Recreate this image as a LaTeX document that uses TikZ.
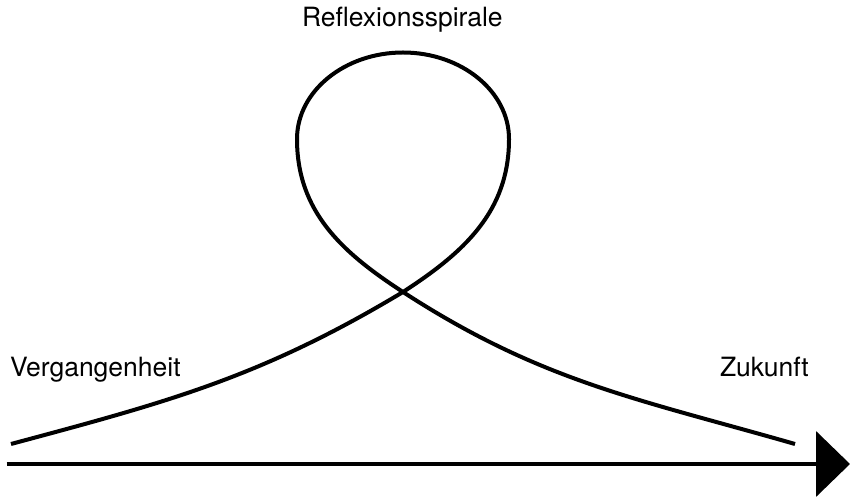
\documentclass[tikz,border=0pt]{standalone}
\usepackage{fontspec}
\setmainfont{TeX Gyre Heros}
\usetikzlibrary{arrows.meta}

\begin{document}
\begin{tikzpicture}[x=1pt,y=1pt,line width=4pt,
  label/.style={anchor=base west,inner sep=0pt,font=\fontsize{26.5}{30}\selectfont}]
  \useasboundingbox (0,0) rectangle (850,497);
  \coordinate (L) at (11,53); \coordinate (X) at (403,205); \coordinate (R) at (509,358);
  \coordinate (T) at (403,444.5); \coordinate (K) at (297,358); \coordinate (E) at (795,53);
  \coordinate (S) at (6.5,33); \coordinate (Z) at (850,33);
  % Zeitachse
  \draw[line width=4.3pt,-{Triangle[length=34pt,width=65pt]}] (S)--(Z);
  % Schleife
  \draw (L) to[out=15,in=211] (X) to[out=33,in=270] (R) .. controls +(0,48) and +(58,0) .. (T)
    .. controls +(-58,0) and +(0,48) .. (K) to[out=270,in=147] (X) to[out=-33,in=164] (E);
  \foreach \n/\x/\y/\t in {refl/300/470/Reflexionsspirale,verg/8/120/Vergangenheit,zuk/718/120/Zukunft}
    \node[label] (\n) at (\x,\y) {\t};
\end{tikzpicture}
\end{document}
